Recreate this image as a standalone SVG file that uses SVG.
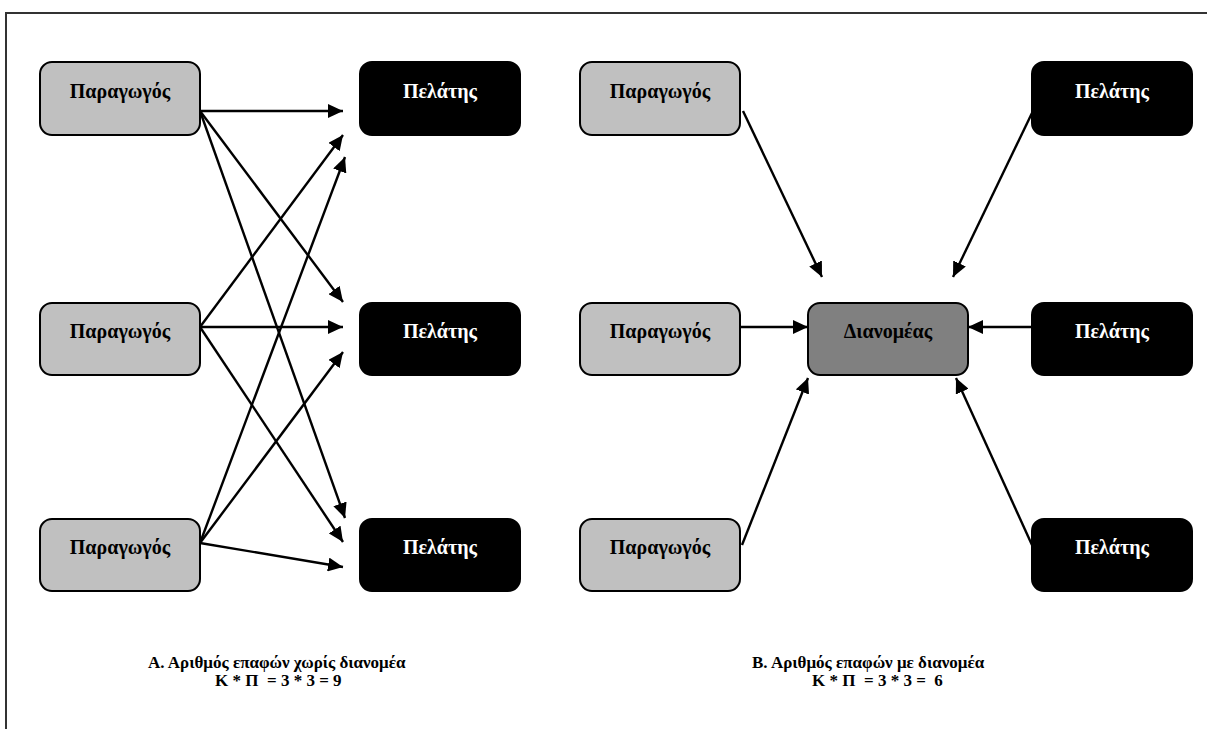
<svg xmlns="http://www.w3.org/2000/svg" width="1207" height="729" viewBox="0 0 1207 729">
  <style>
    .box { stroke: #000; stroke-width: 2; }
    .prod { fill: #c0c0c0; }
    .cust { fill: #000; }
    .dist { fill: #808080; }
    text { font-family: "Liberation Serif", "DejaVu Serif", "Times New Roman", serif; font-weight: bold; }
    .lbl { font-size: 20px; text-anchor: middle; }
    .lbl-dark { fill: #000; }
    .lbl-light { fill: #fff; }
    .cap { font-size: 17px; fill: #000; }
    .conn line { stroke: #000; stroke-width: 2.4; marker-end: url(#head); }
    .frame { stroke: #333; stroke-width: 2; fill: none; }
  </style>
  <defs>
    <marker id="head" markerUnits="userSpaceOnUse" markerWidth="16" markerHeight="14" refX="15" refY="7" orient="auto">
      <path d="M0,0 L15,7 L0,14 z" fill="#000"/>
    </marker>
  </defs>

  <rect width="1207" height="729" fill="#fff"/>
  <!-- outer frame (top and left edges) -->
  <path class="frame" d="M6,729 L6,13 L1207,13"/>

  <!-- connectors -->
  <g id="connectors" class="conn">
    <!-- panel A: every producer to every customer -->
    <line x1="200" y1="111" x2="343" y2="111"/>
    <line x1="200" y1="111" x2="343" y2="302"/>
    <line x1="200" y1="111" x2="345" y2="518"/>
    <line x1="200" y1="327" x2="343" y2="135"/>
    <line x1="200" y1="327" x2="343" y2="327"/>
    <line x1="200" y1="327" x2="343" y2="542"/>
    <line x1="200" y1="543" x2="345" y2="157"/>
    <line x1="200" y1="543" x2="343" y2="352"/>
    <line x1="200" y1="543" x2="343" y2="567"/>
    <!-- panel B: everything through the distributor -->
    <line x1="743" y1="111" x2="822" y2="277"/>
    <line x1="740" y1="327" x2="808" y2="327"/>
    <line x1="742" y1="545" x2="808" y2="378"/>
    <line x1="1032" y1="113" x2="953" y2="277"/>
    <line x1="1032" y1="327" x2="968" y2="327"/>
    <line x1="1032" y1="545" x2="956" y2="378"/>
  </g>

  <!-- panel A nodes -->
  <g id="prodA1"><rect class="box prod" x="40" y="62" width="160" height="73" rx="12"/><text class="lbl lbl-dark" x="120" y="98">Παραγωγός</text></g>
  <g id="prodA2"><rect class="box prod" x="40" y="303" width="160" height="72" rx="12"/><text class="lbl lbl-dark" x="120" y="338">Παραγωγός</text></g>
  <g id="prodA3"><rect class="box prod" x="40" y="519" width="160" height="72" rx="12"/><text class="lbl lbl-dark" x="120" y="554">Παραγωγός</text></g>
  <g id="custA1"><rect class="box cust" x="360" y="62" width="160" height="73" rx="12"/><text class="lbl lbl-light" x="440" y="98">Πελάτης</text></g>
  <g id="custA2"><rect class="box cust" x="360" y="303" width="160" height="72" rx="12"/><text class="lbl lbl-light" x="440" y="338">Πελάτης</text></g>
  <g id="custA3"><rect class="box cust" x="360" y="519" width="160" height="72" rx="12"/><text class="lbl lbl-light" x="440" y="554">Πελάτης</text></g>

  <!-- panel B nodes -->
  <g id="prodB1"><rect class="box prod" x="580" y="62" width="160" height="73" rx="12"/><text class="lbl lbl-dark" x="660" y="98">Παραγωγός</text></g>
  <g id="prodB2"><rect class="box prod" x="580" y="303" width="160" height="72" rx="12"/><text class="lbl lbl-dark" x="660" y="338">Παραγωγός</text></g>
  <g id="prodB3"><rect class="box prod" x="580" y="519" width="160" height="72" rx="12"/><text class="lbl lbl-dark" x="660" y="554">Παραγωγός</text></g>
  <g id="distB"><rect class="box dist" x="808" y="303" width="160" height="72" rx="12"/><text class="lbl lbl-dark" x="888" y="338">Διανομέας</text></g>
  <g id="custB1"><rect class="box cust" x="1032" y="62" width="160" height="73" rx="12"/><text class="lbl lbl-light" x="1112" y="98">Πελάτης</text></g>
  <g id="custB2"><rect class="box cust" x="1032" y="303" width="160" height="72" rx="12"/><text class="lbl lbl-light" x="1112" y="338">Πελάτης</text></g>
  <g id="custB3"><rect class="box cust" x="1032" y="519" width="160" height="72" rx="12"/><text class="lbl lbl-light" x="1112" y="554">Πελάτης</text></g>

  <!-- captions -->
  <g id="captionA">
    <text class="cap" x="148" y="668">Α. Αριθμός επαφών χωρίς διανομέα</text>
    <text class="cap" x="215" y="686" xml:space="preserve">Κ * Π  = 3 * 3 = 9</text>
  </g>
  <g id="captionB">
    <text class="cap" x="752" y="668">Β. Αριθμός επαφών με διανομέα</text>
    <text class="cap" x="812" y="686" xml:space="preserve">Κ * Π  = 3 * 3 =  6</text>
  </g>
</svg>
